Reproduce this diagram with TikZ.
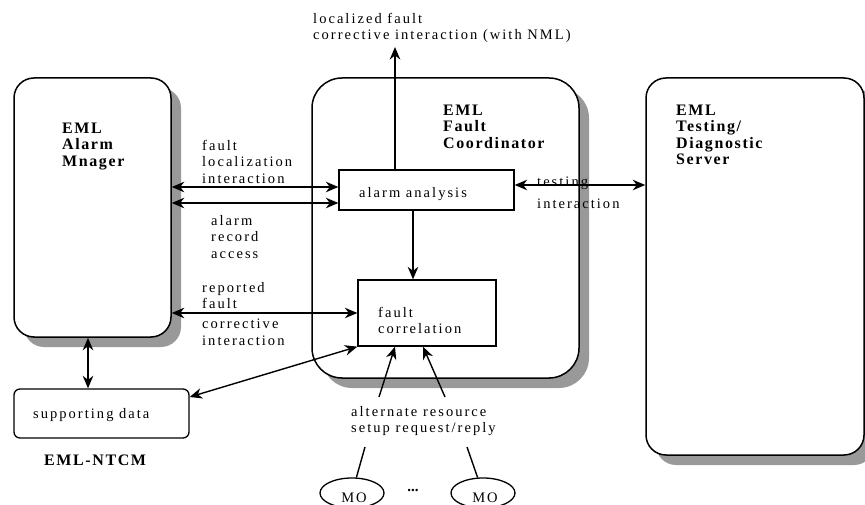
\documentclass[tikz,border=0pt]{standalone}
\usepackage{fontspec}
\setmainfont{Liberation Serif}
\newfontfamily\txtfont[LetterSpace=14]{Liberation Serif}
\newfontfamily\lblfont[LetterSpace=10]{Liberation Serif}
\usetikzlibrary{arrows.meta,shapes.geometric,shadows}
\definecolor{shadowgray}{HTML}{999999}
\tikzset{
  every node/.style={inner sep=0pt},
  txt/.style={anchor=north west, align=left, font=\txtfont\fontsize{14.5}{16.5}\selectfont},
  lbl/.style={anchor=north west, align=left, font=\lblfont\bfseries\fontsize{16}{16.5}\selectfont},
  shadowed/.style={drop shadow={shadow xshift=10pt, shadow yshift=-10pt, fill=shadowgray, opacity=1}},
  bigbox/.style={draw, line width=1.5pt, fill=white, shadowed},
  funcbox/.style={draw, line width=1.3pt, fill=white},
  moell/.style={draw, ellipse, line width=1.3pt, minimum width=64pt, minimum height=30pt},
  conn/.style={line width=1.4pt},
  arr/.style={conn, -{Stealth[length=12.5pt,width=10.5pt,inset=4pt]}},
  darr/.style={conn, {Stealth[length=12.5pt,width=10.5pt,inset=4pt]}-{Stealth[length=12.5pt,width=10.5pt,inset=4pt]}},
}
\begin{document}
\begin{tikzpicture}[x=1pt, y=-1pt]
\useasboundingbox (0,0) rectangle (865,505);
\clip (0,0) rectangle (865,505);

% management blocks
\node[bigbox, rounded corners=20pt, minimum width=157pt, minimum height=259pt] (am) at (92.5,207.5) {};
\node[bigbox, rounded corners=30pt, minimum width=267pt, minimum height=300pt] (fc) at (445.5,228) {};
\node[bigbox, rounded corners=20pt, minimum width=218pt, minimum height=377pt] (ts) at (755,266.5) {};

% functions inside the coordinator
\node[funcbox, minimum width=175pt, minimum height=40pt] (aa) at (426.5,190) {};
\node[funcbox, minimum width=138pt, minimum height=66pt] (fco) at (427,313) {};

% supporting data store
\node[draw, line width=1.3pt, rounded corners=6pt, minimum width=175pt, minimum height=49pt] (sd) at (101.5,413.5) {};

% managed objects
\node[moell] (mo1) at (352,493) {};
\node[moell] (mo2) at (483,493) {};

% block titles
\node[lbl] (amt) at (62,121.45) {\strut EML\\Alarm\\Mnager};
\node[lbl] (fct) at (443,103.45) {\strut EML\\Fault\\Coordinator};
\node[lbl] (tst) at (676,103.45) {\strut EML\\Testing/\\Diagnostic\\Server};
\node[lbl] (ntcm) at (44,453.45) {\strut EML-NTCM};

% function texts
\node[txt] (aat) at (359,185.45) {\strut alarm analysis};
\node[txt] (fcot) at (378,305.45) {\strut fault\\correlation};
\node[txt] (sdt) at (33,406.45) {\strut supporting data};
\node[anchor=base, font=\txtfont\fontsize{14.5}{16}\selectfont] (mo1t) at (354,502) {MO};
\node[anchor=base, font=\txtfont\fontsize{14.5}{16}\selectfont] (mo2t) at (485,502) {MO};
\node[anchor=base, font=\bfseries\fontsize{15}{16}\selectfont] (dots) at (413,491) {...};

% interaction labels
\node[txt] (nmlt) at (313,11.45) {\strut localized fault\\corrective interaction (with NML)};
\node[txt] (flit) at (202,138.45) {\strut fault\\localization\\interaction};
\node[txt] (arat) at (211,213.45) {\strut alarm\\record\\access};
\node[txt] (rfct) at (202,280.45) {\strut reported\\fault\\[3.5pt]corrective\\interaction};
\node[txt] (tit) at (537,174.45) {\strut testing\\[5.5pt]interaction};
\node[txt] (art) at (351,404.45) {\strut alternate resource\\setup request/reply};

% connectors
\coordinate (nmlout) at (395,47);
\draw[arr] (aa.north -| nmlout) -- (nmlout);
\draw[darr] (am.east |- 0,187) -- (aa.west |- 0,187);
\draw[darr] (am.east |- 0,203) -- (aa.west |- 0,203);
\draw[darr] (am.east |- 0,313) -- (fco.west |- 0,313);
\draw[arr] (aa.south -| 413,0) -- (fco.north -| 413,0);
\draw[darr] (aa.east |- 0,185) -- (ts.west |- 0,185);
\draw[darr] (am.south -| 88,0) -- (sd.north -| 88,0);
\draw[darr] (sd.east |- 0,397) -- (fco.south west);
\coordinate (ar1) at (379,397);
\coordinate (ar2) at (445,397);
\draw[arr] (ar1) -- (fco.south -| 395,0);
\draw[arr] (ar2) -- (fco.south -| 423,0);
\coordinate (ml1) at (365,447);
\coordinate (ml2) at (467,447);
\draw[conn] (ml1) -- (mo1);
\draw[conn] (ml2) -- (mo2);
\end{tikzpicture}
\end{document}
